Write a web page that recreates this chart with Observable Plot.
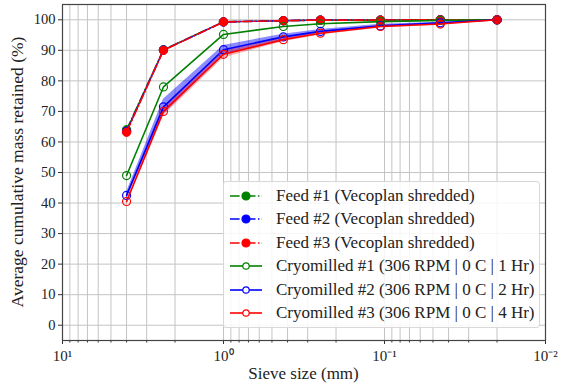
<!DOCTYPE html>
<html>
<head>
<meta charset="utf-8">
<script src="https://cdn.jsdelivr.net/npm/d3@7"></script>
<script src="https://cdn.jsdelivr.net/npm/@observablehq/plot@0.6"></script>
<style>
  html, body { margin: 0; padding: 0; background: #fff; }
  #wrap { position: relative; width: 562px; height: 387px; color: #222; }
  #wrap, #wrap div, #wrap span { font-family: 'Liberation Serif', serif !important; }
  #chart svg, #chart svg text, #chart svg g { font-family: 'Liberation Serif', serif !important; }
  #chart g[aria-label="y-axis tick label"] { font-size: 14.5px; }
  #chart g[aria-label="x-axis tick label"] { font-size: 15px; }
  #legend { position: absolute; left: 223px; top: 181px; width: 317px; height: 147px; box-sizing: border-box;
    background: rgba(255,255,255,0.85); border: 1px solid #d8d8d8; border-radius: 3px; padding: 2px 0 0 0; }
  .row { display: flex; align-items: center; height: 23.5px; font-size: 17px; white-space: nowrap; }
  .row svg { margin-left: 5px; margin-right: 13px; flex: none; }
  #xlabel { position: absolute; left: 62px; width: 483px; top: 364px; text-align: center; font-size: 17px; line-height: 20px; }
  #ylabel { position: absolute; left: 17px; top: 172px; width: 340px; margin-left: -170px; margin-top: -10px;
    text-align: center; font-size: 17.5px; line-height: 20px; transform: rotate(-90deg); white-space: nowrap; }
</style>
</head>
<body>
<div id="wrap"><div id="chart"></div><div id="legend"></div>
<div id="xlabel">Sieve size (mm)</div>
<div id="ylabel">Average cumulative mass retained (%)</div></div>
<script>
// Sieve sizes (mm)
const sizes = [4, 2.36, 1.0, 0.425, 0.25, 0.106, 0.045, 0.02];
// Feed series (Vecoplan shredded)
const feed1 = [64, 90.2, 99.3, 99.7, 99.9, 99.9, 100, 100];
const feed2 = [63.5, 90.1, 99.3, 99.7, 99.9, 99.9, 100, 100];
const feed3 = [63.2, 90, 99.3, 99.7, 99.9, 99.9, 100, 100];
// Cryomilled series
const cryo1 = [49, 78, 95.2, 97.8, 98.7, 99.4, 99.8, 100];
const cryo2 = [42.5, 71.5, 90.2, 94.4, 96.2, 98, 99, 100];
const cryo3 = [40.5, 70, 88.7, 93.5, 95.6, 97.8, 98.6, 100];
// Shaded spread bands
const cryo2Lo = [41.5, 69, 88.3, 93.5, 95.6, 97.5, 98.7, 100];
const cryo2Hi = [43.5, 74, 91.6, 95.3, 96.8, 98.5, 99.2, 100];
const cryo3Lo = [39.5, 68.5, 87.5, 92.8, 95, 97.3, 98.3, 100];
const cryo3Hi = [41.5, 71.5, 89.8, 94.2, 96.2, 98.2, 98.9, 100];
// Axis ticks
const xMajor = [10, 1, 0.1, 0.01];
const xMajorLabels = ["10\u00B9", "10\u2070", "10\u207B\u00B9", "10\u207B\u00B2"];
const xMinor = [9,8,7,6,5,4,3,2, 0.9,0.8,0.7,0.6,0.5,0.4,0.3,0.2, 0.09,0.08,0.07,0.06,0.05,0.04,0.03,0.02];
const yTicks = [0,10,20,30,40,50,60,70,80,90,100];

const seriesNames = [
  "Feed #1 (Vecoplan shredded)",
  "Feed #2 (Vecoplan shredded)",
  "Feed #3 (Vecoplan shredded)",
  "Cryomilled #1 (306 RPM | 0 C | 1 Hr)",
  "Cryomilled #2 (306 RPM | 0 C | 2 Hr)",
  "Cryomilled #3 (306 RPM | 0 C | 4 Hr)"
];
const seriesValues = [feed1, feed2, feed3, cryo1, cryo2, cryo3];
const colors = ["#008000", "#0000ff", "#ff0000", "#008000", "#0000ff", "#ff0000"];
const DASHDOT = "9.6,2.4,1.5,2.4";

const toRows = vals => sizes.map((s, i) => ({size: s, v: vals[i]}));
const band = (lo, hi) => sizes.map((s, i) => ({size: s, lo: lo[i], hi: hi[i]}));

const marks = [
  Plot.ruleX(xMinor, {stroke: "#c4c4c4", strokeWidth: 1}),
  Plot.ruleX(xMajor, {stroke: "#c4c4c4", strokeWidth: 1}),
  Plot.ruleY(yTicks, {stroke: "#c4c4c4", strokeWidth: 1}),
  Plot.areaY(band(cryo2Lo, cryo2Hi), {x: "size", y1: "lo", y2: "hi", fill: "#0000ff", fillOpacity: 0.45, curve: "linear"}),
  Plot.areaY(band(cryo3Lo, cryo3Hi), {x: "size", y1: "lo", y2: "hi", fill: "#ff0000", fillOpacity: 0.3, curve: "linear"})
];
seriesValues.forEach((vals, k) => {
  const feed = k < 3;
  marks.push(Plot.line(toRows(vals), {x: "size", y: "v", stroke: colors[k], strokeWidth: 1.6,
    strokeDasharray: feed ? DASHDOT : null}));
  marks.push(Plot.dot(toRows(vals), {x: "size", y: "v", r: feed ? 4.2 : 4,
    fill: feed ? colors[k] : "none", stroke: colors[k], strokeWidth: feed ? 1 : 1.2}));
});
marks.push(
  Plot.axisX(xMinor, {tickSize: 2.5, tickFormat: () => "", stroke: "#333", label: null}),
  Plot.axisX(xMajor, {tickSize: 4, tickPadding: 6, tickFormat: d => xMajorLabels[xMajor.indexOf(d)],
    fill: "#222", stroke: "#333", label: null}),
  Plot.axisY(yTicks, {tickSize: 4, tickPadding: 3, fill: "#222", stroke: "#333", label: null}),
  Plot.frame({stroke: "#444", strokeWidth: 1.2})
);

const chart = Plot.plot({
  width: 562,
  height: 387,
  marginTop: 4,
  marginBottom: 47,
  marginLeft: 62,
  marginRight: 17,
  x: {type: "log", domain: [10, 0.01]},
  y: {domain: [-5, 105]},
  style: {fontFamily: "'Liberation Serif', serif", color: "#222", background: "#fff"},
  marks
});
document.getElementById("chart").appendChild(chart);

// Legend
const legend = document.getElementById("legend");
seriesNames.forEach((name, k) => {
  const feed = k < 3;
  const row = document.createElement("div");
  row.className = "row";
  const c = colors[k];
  row.innerHTML = `<svg width="34" height="12" viewBox="0 0 34 12">
    <line x1="1" y1="6" x2="33" y2="6" stroke="${c}" stroke-width="1.6" ${feed ? `stroke-dasharray="${DASHDOT}"` : ""}/>
    <circle cx="17" cy="6" r="${feed ? 4 : 3.2}" fill="${feed ? c : "#fff"}" stroke="${c}" stroke-width="1.2"/>
  </svg><span>${name}</span>`;
  legend.appendChild(row);
});
</script>
</body>
</html>
